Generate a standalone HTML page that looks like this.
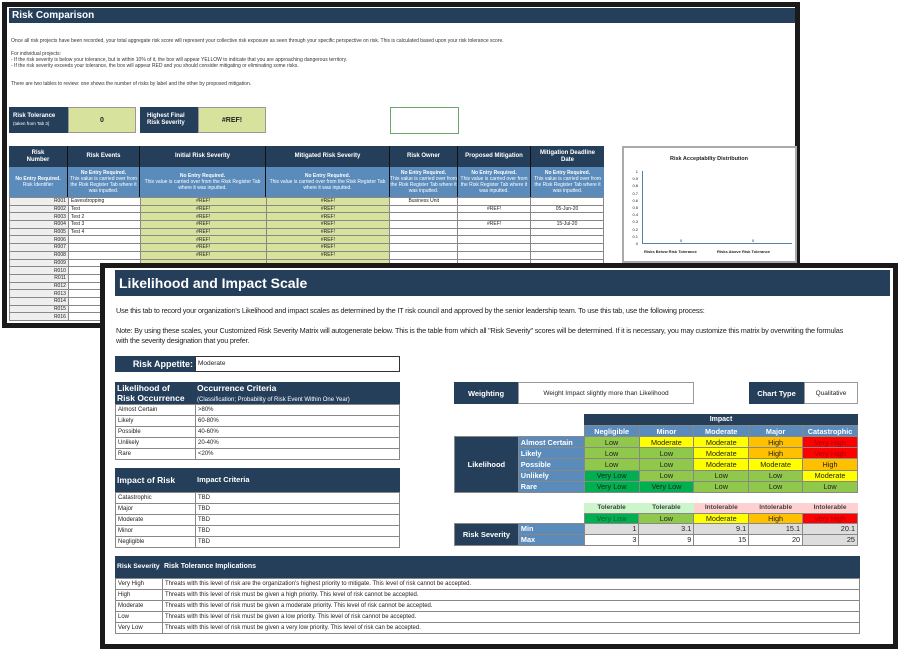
<!DOCTYPE html>
<html><head><meta charset="utf-8"><style>
*{margin:0;padding:0;box-sizing:border-box}
body{width:898px;height:650px;background:#fff;position:relative;overflow:hidden;font-family:"Liberation Sans",Arial,sans-serif;color:#222}
.a{position:absolute}
.dk{background:#253f5b;color:#fff;font-weight:bold}
.lb{background:#5a8bbb;color:#fff}
.c{display:flex;align-items:center;justify-content:center;text-align:center}
.t5{font-size:5px;line-height:6px}
.t6{font-size:6px;line-height:7px}
.t7{font-size:7.3px;letter-spacing:-0.2px}
table{border-collapse:collapse;position:absolute}
td{border:1px solid #888;padding:0 2px;overflow:hidden;white-space:nowrap}
</style></head><body>

<!-- BACK WINDOW -->
<div class="a" style="left:2px;top:2px;width:798px;height:326px;border:5px solid #1a1a1a;background:#fff"></div>
<div class="a dk" style="left:9px;top:8px;width:786px;height:15px;font-size:10px;line-height:15px;padding-left:3px">Risk Comparison</div>
<div class="a t5" style="left:11px;top:38px;color:#333">Once all risk projects have been recorded, your total aggregate risk score will represent your collective risk exposure as seen through your specific perspective on risk. This is calculated based upon your risk tolerance score.</div>
<div class="a t5" style="left:11px;top:51px;color:#333">For individual projects:<br>- If the risk severity is below your tolerance, but is within 10% of it, the box will appear YELLOW to indicate that you are approaching dangerous territory.<br>- If the risk severity exceeds your tolerance, the box will appear RED and you should consider mitigating or eliminating some risks.</div>
<div class="a t5" style="left:11px;top:81px;color:#333">There are two tables to review: one shows the number of risks by label and the other by proposed mitigation.</div>

<div class="a dk" style="left:9px;top:107px;width:59px;height:26px;font-size:6px;line-height:7px;padding:6px 0 0 4px;white-space:nowrap">Risk Tolerance<br><span style="font-weight:normal;font-size:4.5px">(taken from Tab 3)</span></div>
<div class="a c" style="left:68px;top:107px;width:68px;height:26px;background:#d7e29d;border:1px solid #999;font-size:7px;font-weight:bold">0</div>
<div class="a dk" style="left:140px;top:107px;width:58px;height:26px;font-size:6px;line-height:7px;padding:6px 0 0 7px;white-space:nowrap">Highest Final<br>Risk Severity</div>
<div class="a c" style="left:198px;top:107px;width:68px;height:26px;background:#d7e29d;border:1px solid #999;font-size:7px;font-weight:bold">#REF!</div>
<div class="a" style="left:390px;top:107px;width:69px;height:27px;border:1px solid #6aa86a"></div>

<!-- back table header -->
<div class="a dk c t6" style="left:9px;top:146px;width:59px;height:21px;border-right:1px solid #111">Risk<br>Number</div>
<div class="a dk c t6" style="left:68px;top:146px;width:72px;height:21px;border-right:1px solid #111">Risk Events</div>
<div class="a dk c t6" style="left:140px;top:146px;width:126px;height:21px;border-right:1px solid #111">Initial Risk Severity</div>
<div class="a dk c t6" style="left:266px;top:146px;width:124px;height:21px;border-right:1px solid #111">Mitigated Risk Severity</div>
<div class="a dk c t6" style="left:390px;top:146px;width:68px;height:21px;border-right:1px solid #111">Risk Owner</div>
<div class="a dk c t6" style="left:458px;top:146px;width:73px;height:21px;border-right:1px solid #111">Proposed Mitigation</div>
<div class="a dk c t6" style="left:531px;top:146px;width:73px;height:21px">Mitigation Deadline<br>Date</div>
<div class="a lb c t5" style="left:9px;top:167px;width:59px;height:30px;border-right:1px solid #111"><span><b>No Entry Required.</b><br>Risk Identifier</span></div>
<div class="a lb c t5" style="left:68px;top:167px;width:72px;height:30px;border-right:1px solid #111"><span><b>No Entry Required.</b><br>This value is carried over from the Risk Register Tab where it was inputted.</span></div>
<div class="a lb c t5" style="left:140px;top:167px;width:126px;height:30px;border-right:1px solid #111"><span><b>No Entry Required.</b><br>This value is carried over from the Risk Register Tab where it was inputted.</span></div>
<div class="a lb c t5" style="left:266px;top:167px;width:124px;height:30px;border-right:1px solid #111"><span><b>No Entry Required.</b><br>This value is carried over from the Risk Register Tab where it was inputted.</span></div>
<div class="a lb c t5" style="left:390px;top:167px;width:68px;height:30px;border-right:1px solid #111;overflow:hidden"><span><b>No Entry Required.</b><br>This value is carried over from the Risk Register Tab where it was inputted.</span></div>
<div class="a lb c t5" style="left:458px;top:167px;width:73px;height:30px;border-right:1px solid #111"><span><b>No Entry Required.</b><br>This value is carried over from the Risk Register Tab where it was inputted.</span></div>
<div class="a lb c t5" style="left:531px;top:167px;width:73px;height:30px"><span><b>No Entry Required.</b><br>This value is carried over from the Risk Register Tab where it was inputted.</span></div>

<table style="left:9px;top:197px;width:595px;font-size:5px;line-height:6px">
<colgroup><col style="width:59px"><col style="width:72px"><col style="width:126px"><col style="width:124px"><col style="width:68px"><col style="width:73px"><col style="width:73px"></colgroup>
<tbody>
<tr style="height:7.7px"><td style="background:#eee;text-align:right">R001</td><td>Eavesdropping</td><td style="background:#d7e29d;text-align:center">#REF!</td><td style="background:#d7e29d;text-align:center">#REF!</td><td style="text-align:center">Business Unit</td><td></td><td></td></tr>
<tr style="height:7.7px"><td style="background:#eee;text-align:right">R002</td><td>Test</td><td style="background:#d7e29d;text-align:center">#REF!</td><td style="background:#d7e29d;text-align:center">#REF!</td><td></td><td style="text-align:center">#REF!</td><td style="text-align:center">05-Jun-20</td></tr>
<tr style="height:7.7px"><td style="background:#eee;text-align:right">R003</td><td>Test 2</td><td style="background:#d7e29d;text-align:center">#REF!</td><td style="background:#d7e29d;text-align:center">#REF!</td><td></td><td></td><td></td></tr>
<tr style="height:7.7px"><td style="background:#eee;text-align:right">R004</td><td>Test 3</td><td style="background:#d7e29d;text-align:center">#REF!</td><td style="background:#d7e29d;text-align:center">#REF!</td><td></td><td style="text-align:center">#REF!</td><td style="text-align:center">15-Jul-20</td></tr>
<tr style="height:7.7px"><td style="background:#eee;text-align:right">R005</td><td>Test 4</td><td style="background:#d7e29d;text-align:center">#REF!</td><td style="background:#d7e29d;text-align:center">#REF!</td><td></td><td></td><td></td></tr>
<tr style="height:7.7px"><td style="background:#eee;text-align:right">R006</td><td></td><td style="background:#d7e29d;text-align:center">#REF!</td><td style="background:#d7e29d;text-align:center">#REF!</td><td></td><td></td><td></td></tr>
<tr style="height:7.7px"><td style="background:#eee;text-align:right">R007</td><td></td><td style="background:#d7e29d;text-align:center">#REF!</td><td style="background:#d7e29d;text-align:center">#REF!</td><td></td><td></td><td></td></tr>
<tr style="height:7.7px"><td style="background:#eee;text-align:right">R008</td><td></td><td style="background:#d7e29d;text-align:center">#REF!</td><td style="background:#d7e29d;text-align:center">#REF!</td><td></td><td></td><td></td></tr>
<tr style="height:7.7px"><td style="background:#eee;text-align:right">R009</td><td></td><td style="background:#d7e29d"></td><td style="background:#d7e29d"></td><td></td><td></td><td></td></tr>
<tr style="height:7.7px"><td style="background:#eee;text-align:right">R010</td><td></td><td></td><td></td><td></td><td></td><td></td></tr>
<tr style="height:7.7px"><td style="background:#eee;text-align:right">R011</td><td></td><td></td><td></td><td></td><td></td><td></td></tr>
<tr style="height:7.7px"><td style="background:#eee;text-align:right">R012</td><td></td><td></td><td></td><td></td><td></td><td></td></tr>
<tr style="height:7.7px"><td style="background:#eee;text-align:right">R013</td><td></td><td></td><td></td><td></td><td></td><td></td></tr>
<tr style="height:7.7px"><td style="background:#eee;text-align:right">R014</td><td></td><td></td><td></td><td></td><td></td><td></td></tr>
<tr style="height:7.7px"><td style="background:#eee;text-align:right">R015</td><td></td><td></td><td></td><td></td><td></td><td></td></tr>
<tr style="height:7.7px"><td style="background:#eee;text-align:right">R016</td><td></td><td></td><td></td><td></td><td></td><td></td></tr>
</tbody></table>

<!-- chart -->
<div class="a" style="left:622px;top:146px;width:175px;height:117px;border:2px solid #aaa;background:#fff">
<div class="a t5" style="left:0;top:8px;width:170px;text-align:center;font-weight:bold;font-size:5.5px">Risk Acceptabilty Distribution</div>
<div class="a" style="left:18px;top:23px;width:1px;height:72px;background:#5a7fa8"></div>
<div class="a" style="left:18px;top:95px;width:150px;height:1px;background:#5a7fa8"></div>
<div class="a" style="left:4px;top:20px;font-size:4px;line-height:7.2px;text-align:right;width:10px">1<br>0.9<br>0.8<br>0.7<br>0.6<br>0.5<br>0.4<br>0.3<br>0.2<br>0.1<br>0</div>
<div class="a" style="left:56px;top:90px;font-size:4px">0</div><div class="a" style="left:128px;top:90px;font-size:4px">0</div>
<div class="a" style="left:20px;top:101px;font-size:4px;font-weight:bold">Risks Below Risk Tolerance</div>
<div class="a" style="left:93px;top:101px;font-size:4px;font-weight:bold">Risks Above Risk Tolerance</div>
</div>

<!-- FRONT WINDOW -->
<div class="a" style="left:100px;top:263px;width:798px;height:386px;border:5px solid #1a1a1a;background:#fff"></div>
<div class="a dk" style="left:115px;top:270px;width:775px;height:26px;font-size:14px;line-height:26px;padding-left:4px">Likelihood and Impact Scale</div>
<div class="a t7" style="left:116px;top:306px;white-space:nowrap">Use this tab to record your organization's Likelihood and impact scales as determined by the IT risk council and approved by the senior leadership team. To use this tab, use the following process:</div>
<div class="a t7" style="left:116px;top:326px;white-space:nowrap;width:775px;overflow:hidden">Note: By using these scales, your Customized Risk Severity Matrix will autogenerate below. This is the table from which all "Risk Severity" scores will be determined. If it is necessary, you may customize this matrix by overwriting the formulas</div>
<div class="a t7" style="left:116px;top:336px">with the severity designation that you prefer.</div>

<div class="a dk" style="left:115px;top:356px;width:80px;height:16px;font-size:9px;line-height:16px;text-align:right;padding-right:2px">Risk Appetite:</div>
<div class="a" style="left:195px;top:356px;width:205px;height:16px;border:1px solid #333;line-height:14px;padding-left:2px;font-size:6.5px">Moderate</div>

<div class="a dk" style="left:115px;top:382px;width:80px;height:22px;font-size:8.5px;line-height:10px;padding:1px 2px;white-space:nowrap">Likelihood of<br>Risk Occurrence</div>
<div class="a dk" style="left:195px;top:382px;width:205px;height:22px;font-size:8.5px;line-height:10px;padding:1px 2px">Occurrence Criteria<br><span style="font-weight:normal;font-size:6px">(Classification; Probability of Risk Event Within One Year)</span></div>
<table class="t6" style="left:115px;top:404px;width:285px;border:1px solid #333"><colgroup><col style="width:80px"><col></colgroup>
<tr style="height:11px"><td>Almost Certain</td><td>&gt;80%</td></tr><tr style="height:11px"><td>Likely</td><td>60-80%</td></tr><tr style="height:11px"><td>Possible</td><td>40-60%</td></tr><tr style="height:11px"><td>Unlikely</td><td>20-40%</td></tr><tr style="height:11px"><td>Rare</td><td>&lt;20%</td></tr></table>

<div class="a dk" style="left:115px;top:468px;width:80px;height:24px;font-size:8.5px;line-height:24px;padding-left:2px">Impact of Risk</div>
<div class="a dk" style="left:195px;top:468px;width:205px;height:24px;font-size:7.5px;line-height:24px;padding-left:2px">Impact Criteria</div>
<table class="t6" style="left:115px;top:492px;width:285px;border:1px solid #333"><colgroup><col style="width:80px"><col></colgroup>
<tr style="height:11px"><td>Catastrophic</td><td>TBD</td></tr><tr style="height:11px"><td>Major</td><td>TBD</td></tr><tr style="height:11px"><td>Moderate</td><td>TBD</td></tr><tr style="height:11px"><td>Minor</td><td>TBD</td></tr><tr style="height:11px"><td>Negligible</td><td>TBD</td></tr></table>

<div class="a dk c" style="left:454px;top:382px;width:64px;height:22px;font-size:7.5px">Weighting</div>
<div class="a c" style="left:518px;top:382px;width:176px;height:22px;border:1px solid #999;font-size:6.5px">Weight Impact slightly more than Likelihood</div>
<div class="a dk c" style="left:749px;top:382px;width:55px;height:22px;font-size:7.5px">Chart Type</div>
<div class="a c" style="left:804px;top:382px;width:54px;height:22px;border:1px solid #999;font-size:6.5px">Qualitative</div>

<div class="a dk c" style="left:584px;top:414px;width:274px;height:11px;font-size:7px">Impact</div>
<table style="left:454px;top:425px;width:404px;font-size:7.3px;line-height:9px;text-align:center">
<colgroup><col style="width:64px"><col style="width:66px"><col style="width:55px"><col style="width:55px"><col style="width:55px"><col style="width:54px"><col style="width:55px"></colgroup>
<tr style="height:11px"><td style="border:none"></td><td style="border:none"></td><td class="lb" style="font-weight:bold">Negligible</td><td class="lb" style="font-weight:bold">Minor</td><td class="lb" style="font-weight:bold">Moderate</td><td class="lb" style="font-weight:bold">Major</td><td class="lb" style="font-weight:bold">Catastrophic</td></tr>
<tr style="height:11.2px"><td class="dk" rowspan="5" style="font-size:7.5px">Likelihood</td><td class="lb" style="text-align:left;font-weight:bold">Almost Certain</td><td style="background:#8fc84a">Low</td><td style="background:#ffff00">Moderate</td><td style="background:#ffff00">Moderate</td><td style="background:#ffc000">High</td><td style="background:#ff0000;color:#a00">Very High</td></tr>
<tr style="height:11.2px"><td class="lb" style="text-align:left;font-weight:bold">Likely</td><td style="background:#8fc84a">Low</td><td style="background:#8fc84a">Low</td><td style="background:#ffff00">Moderate</td><td style="background:#ffc000">High</td><td style="background:#ff0000;color:#a00">Very High</td></tr>
<tr style="height:11.2px"><td class="lb" style="text-align:left;font-weight:bold">Possible</td><td style="background:#8fc84a">Low</td><td style="background:#8fc84a">Low</td><td style="background:#ffff00">Moderate</td><td style="background:#ffff00">Moderate</td><td style="background:#ffc000">High</td></tr>
<tr style="height:11.2px"><td class="lb" style="text-align:left;font-weight:bold">Unlikely</td><td style="background:#00b050">Very Low</td><td style="background:#8fc84a">Low</td><td style="background:#8fc84a">Low</td><td style="background:#8fc84a">Low</td><td style="background:#ffff00">Moderate</td></tr>
<tr style="height:11.2px"><td class="lb" style="text-align:left;font-weight:bold">Rare</td><td style="background:#00b050">Very Low</td><td style="background:#00b050">Very Low</td><td style="background:#8fc84a">Low</td><td style="background:#8fc84a">Low</td><td style="background:#8fc84a">Low</td></tr>
</table>

<table style="left:454px;top:503px;width:404px;font-size:7.3px;line-height:9px;text-align:center">
<colgroup><col style="width:64px"><col style="width:66px"><col style="width:55px"><col style="width:55px"><col style="width:55px"><col style="width:54px"><col style="width:55px"></colgroup>
<tr style="height:10px;font-size:6.5px;font-weight:bold;color:#444"><td style="border:none"></td><td style="border:none"></td><td style="border:none;background:#ccf5cc">Tolerable</td><td style="border:none;background:#ccf5cc">Tolerable</td><td style="border:none;background:#ffd0d0">Intolerable</td><td style="border:none;background:#ffd0d0">Intolerable</td><td style="border:none;background:#ffd0d0">Intolerable</td></tr>
<tr style="height:10px"><td style="border:none"></td><td style="border:none"></td><td style="background:#00b050;color:#185c30">Very Low</td><td style="background:#8fc84a">Low</td><td style="background:#ffff00">Moderate</td><td style="background:#ffc000">High</td><td style="background:#ff0000;color:#a00">Very High</td></tr>
<tr style="height:11px;text-align:right"><td class="dk" rowspan="2" style="text-align:center;font-size:7.5px">Risk Severity</td><td class="lb" style="text-align:left;font-weight:bold">Min</td><td style="background:#ddd">1</td><td style="background:#ddd">3.1</td><td style="background:#ddd">9.1</td><td style="background:#ddd">15.1</td><td style="background:#ddd">20.1</td></tr>
<tr style="height:11px;text-align:right"><td class="lb" style="text-align:left;font-weight:bold">Max</td><td>3</td><td>9</td><td>15</td><td>20</td><td style="background:#ddd">25</td></tr>
</table>

<div class="a dk" style="left:115px;top:556px;width:47px;height:22px;font-size:6.8px;line-height:22px;padding-left:2px;white-space:nowrap;overflow:hidden">Risk Severity</div>
<div class="a dk" style="left:162px;top:556px;width:698px;height:22px;font-size:7px;line-height:22px;padding-left:2px">Risk Tolerance Implications</div>
<table class="t6" style="left:115px;top:578px;width:745px;border:1px solid #333"><colgroup><col style="width:47px"><col></colgroup>
<tr style="height:11px"><td>Very High</td><td>Threats with this level of risk are the organization's highest priority to mitigate. This level of risk cannot be accepted.</td></tr>
<tr style="height:11px"><td>High</td><td>Threats with this level of risk must be given a high priority. This level of risk cannot be accepted.</td></tr>
<tr style="height:11px"><td>Moderate</td><td>Threats with this level of risk must be given a moderate priority. This level of risk cannot be accepted.</td></tr>
<tr style="height:11px"><td>Low</td><td>Threats with this level of risk must be given a low priority. This level of risk cannot be accepted.</td></tr>
<tr style="height:11px"><td>Very Low</td><td>Threats with this level of risk must be given a very low priority. This level of risk can be accepted.</td></tr>
</table>
</body></html>
